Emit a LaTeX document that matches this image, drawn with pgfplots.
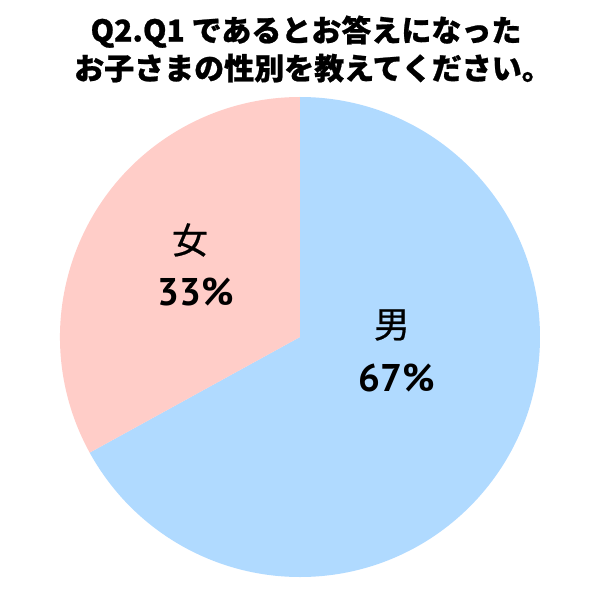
\documentclass[border=0pt]{standalone}
\usepackage{pgfplots}
\pgfplotsset{compat=1.18}
\usepackage{pgfplotstable}
\usepackage{fontspec}
\setmainfont{Noto Sans CJK JP}[BoldFeatures={FakeBold=0.8}]
\newfontfamily\labelfont{Noto Sans CJK JP}[FakeBold=0.6]
\newfontfamily\numfont{PT Sans}
\definecolor{boy}{RGB}{176,218,255}
\definecolor{girl}{RGB}{255,205,200}

% share of answers, percent
\pgfplotstableread{
group share
boy 67
girl 33
}\pietable

\begin{document}
\begin{tikzpicture}
\useasboundingbox (0,0) rectangle (300bp,300bp);
\fill[white] (0,0) rectangle (300bp,300bp);
\begin{axis}[
    x=0.5bp, y=0.5bp,
    xmin=0, xmax=600, ymin=0, ymax=600,
    hide axis, clip=false,
]
\pgfplotstablegetelem{0}{share}\of\pietable
\pgfmathsetmacro\boyend{90-3.6*\pgfplotsretval}
% wedges, clockwise from 12 o'clock
\fill[boy] (axis cs:300,263) -- ++(90:120bp)
    arc[start angle=90, end angle=\boyend, radius=120bp] -- cycle;
\fill[girl] (axis cs:300,263) -- ++(\boyend:120bp)
    arc[start angle=\boyend, end angle=-270, radius=120bp] -- cycle;

% title
\node[anchor=base, font=\fontsize{15bp}{17bp}\selectfont\bfseries]
    at (axis cs:306,558.5) {Q2.Q1 であるとお答えになった};
\node[anchor=base, font=\fontsize{15bp}{17bp}\selectfont\bfseries]
    at (axis cs:313,520.5) {お子さまの性別を教えてください。};

% labels
\node[font=\fontsize{18bp}{20bp}\selectfont\labelfont] at (axis cs:190,360) {女};
\node[font=\fontsize{19.3bp}{22bp}\selectfont\numfont\bfseries] at (axis cs:196,308) {33\%};
\node[font=\fontsize{18bp}{20bp}\selectfont\labelfont] at (axis cs:392,275) {男};
\node[font=\fontsize{19.3bp}{22bp}\selectfont\numfont\bfseries] at (axis cs:397,222) {67\%};
\end{axis}
\end{tikzpicture}
\end{document}
